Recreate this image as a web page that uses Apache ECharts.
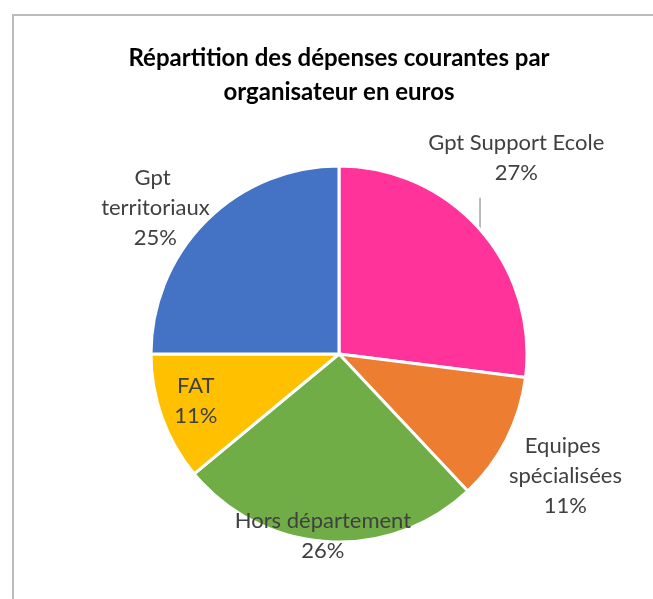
<!DOCTYPE html>
<html>
<head>
<meta charset="utf-8">
<script src="https://cdn.jsdelivr.net/npm/echarts@6/dist/echarts.min.js"></script>
<style>
  html, body { margin: 0; padding: 0; background: #fff; }
  #main { width: 653px; height: 599px; position: relative; }
  .frame {
    position: absolute; left: 12px; top: 14px; width: 641px; height: 585px;
    border-left: 2px solid #bcbcbc; border-top: 2px solid #bcbcbc;
    pointer-events: none;
  }
</style>
</head>
<body>
<div id="main"></div>
<div class="frame"></div>
<script>
// données
const categories = ['Gpt Support Ecole', 'Equipes spécialisées', 'Hors département', 'FAT', 'Gpt territoriaux'];
const values = [27, 11, 26, 11, 25];

const colors = ['#FF3399', '#ED7D31', '#70AD47', '#FFC000', '#4472C4'];
// position des étiquettes : inside + décalage, sauf la première (outside avec trait)
const labelPos = ['outside', 'inside', 'inside', 'inside', 'inside'];
const labelShift = [[5, -62], [140, 78], [-10, 85], [-52, 14], [-115, -78]];
const labelWidth = [220, 140, 220, 80, 130];

const chart = echarts.init(document.getElementById('main'));

const option = {
  animation: false,
  title: {
    text: 'Répartition des dépenses courantes par\norganisateur en euros',
    left: 334,
    top: 36,
    textAlign: 'center',
    textStyle: {
      fontFamily: 'Lato',
      fontWeight: 'bold',
      fontSize: 24,
      lineHeight: 34,
      color: '#000',
      align: 'center'
    }
  },
  color: colors,
  series: [{
    type: 'pie',
    center: [339, 354],
    radius: 188,
    startAngle: 90,
    clockwise: true,
    percentPrecision: 0,
    itemStyle: {
      borderColor: '#fff',
      borderWidth: 3
    },
    label: {
      show: true,
      formatter: '{b}\n{d}%',
      fontFamily: 'Lato',
      fontSize: 22,
      lineHeight: 30,
      color: '#404040',
      align: 'center',
      overflow: 'break'
    },
    labelLine: {
      show: true,
      length: 15,
      length2: 15,
      lineStyle: { color: '#a6a6a6', width: 1.5 }
    },
    labelLayout: function (params) {
      const s = labelShift[params.dataIndex];
      const res = { dx: s[0], dy: s[1], align: 'center' };
      const pts = params.labelLinePoints;
      if (pts && pts.length) {
        // trait vertical depuis le bord de la part
        const p = pts[0];
        res.labelLinePoints = [[p[0], p[1]], [p[0], p[1] - 16], [p[0], p[1] - 32]];
      }
      return res;
    },
    data: categories.map(function (c, i) {
      return {
        name: c,
        value: values[i],
        label: { position: labelPos[i], width: labelWidth[i] }
      };
    })
  }]
};

chart.setOption(option);
</script>
</body>
</html>
